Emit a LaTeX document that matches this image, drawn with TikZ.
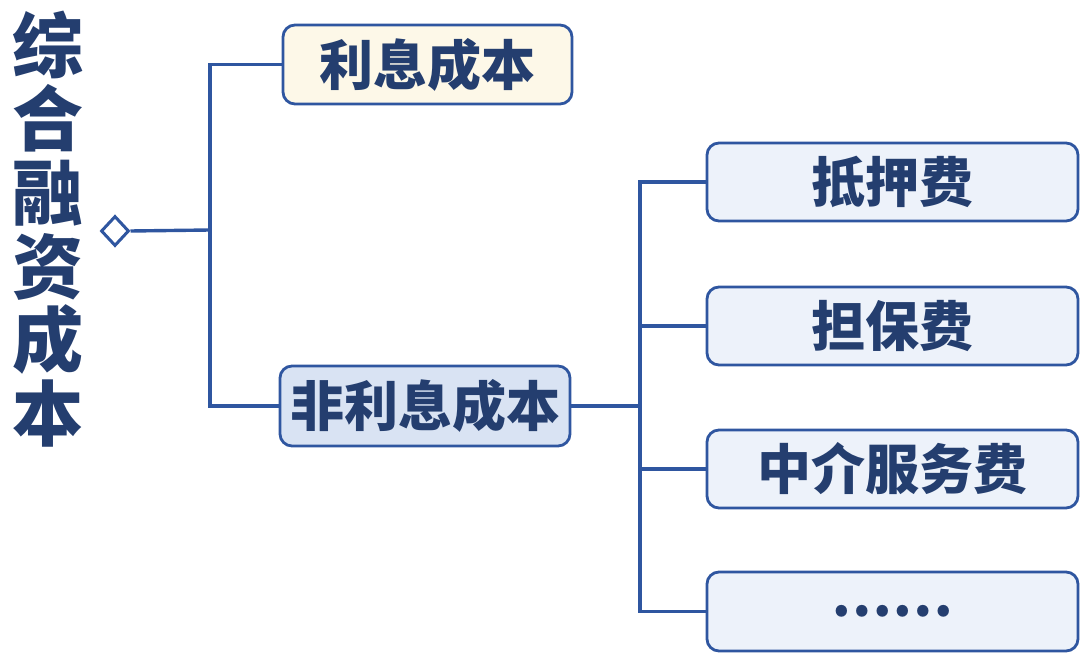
\documentclass[tikz,border=0pt]{standalone}
\usepackage{fontspec}
\usetikzlibrary{shapes.geometric}
\newfontfamily\cjk{Noto Sans CJK SC}
\definecolor{edgeblue}{HTML}{2F56A0}
\definecolor{txtblue}{HTML}{243E6F}
\definecolor{cream}{HTML}{FDF8E8}
\definecolor{midblue}{HTML}{D9E3F3}
\definecolor{paleblue}{HTML}{EDF2FA}
\begin{document}
\begin{tikzpicture}[x=1pt,y=-1pt,
  box/.style={draw=edgeblue,line width=2.8pt,rounded corners=12pt,inner sep=0pt,
    text=txtblue,font=\cjk\bfseries\fontsize{54}{60}\selectfont},
  conn/.style={draw=edgeblue,line width=3.4pt},
  ]
\useasboundingbox (0,0) rectangle (1080,660);
\node[text=txtblue,align=center,font=\cjk\bfseries\fontsize{71}{73.7}\selectfont,inner sep=0pt] (title) at (48,229) {综\\合\\融\\资\\成\\本};
\node[draw=edgeblue,line width=3pt,diamond,minimum width=28pt,minimum height=30pt,inner sep=0pt,fill=white] (d) at (115,231) {};
\coordinate (s1) at (210,230);
\node[box,fill=cream,minimum width=289pt,minimum height=79pt] (ib) at (427.5,64.5) {利息成本};
\node[box,fill=midblue,minimum width=290pt,minimum height=80pt] (nb) at (425,406) {非利息成本};
\coordinate (s2) at (640,406);
\node[box,fill=paleblue,minimum width=371pt,minimum height=78pt] (b1) at (892.5,182) {抵押费};
\node[box,fill=paleblue,minimum width=371pt,minimum height=78pt] (b2) at (892.5,326) {担保费};
\node[box,fill=paleblue,minimum width=371pt,minimum height=78pt] (b3) at (892.5,469) {中介服务费};
\node[box,fill=paleblue,minimum width=371pt,minimum height=79pt] (b4) at (892.5,611.5) {……};
\draw[conn] (d.east) -- (s1);
\draw[conn] (ib.west) -| (s1 |- nb.west) -- (nb.west);
\draw[conn] (nb.east) -- (s2);
\draw[conn] (b1.west) -| (s2 |- b4.west) -- (b4.west);
\draw[conn] (s2 |- b2.west) -- (b2.west);
\draw[conn] (s2 |- b3.west) -- (b3.west);
\end{tikzpicture}
\end{document}
